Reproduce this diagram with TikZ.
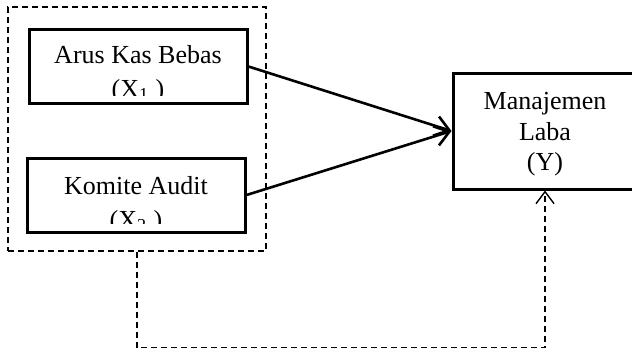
\documentclass[tikz,border=0pt]{standalone}
\usepackage{fontspec}
\setmainfont{Liberation Serif}
\usetikzlibrary{arrows.meta}
\begin{document}
\begin{tikzpicture}[x=0.5pt,y=-0.5pt,
  varbox/.style={draw,line width=1.5pt,minimum width=109pt,minimum height=37pt,inner sep=0pt},
  groupbox/.style={draw,dash pattern=on 3pt off 2pt,line width=0.7pt,inner sep=0pt},
  txt/.style={font=\fontsize{13}{15}\selectfont,anchor=base,inner sep=0pt},
  effect/.style={line width=1.3pt,-{Straight Barb[length=7pt,width=10pt]}},
  moderation/.style={line width=0.7pt,dash pattern=on 3pt off 2pt,-{Straight Barb[length=6pt,width=9pt]}}
]
\useasboundingbox (0,0) rectangle (632,349);
\clip (0,0) rectangle (632,349);

% independent variables grouped in a dashed frame
\node[groupbox,minimum width=129pt,minimum height=122pt] (grp) at (137,129) {};
\node[varbox] (x1) at (138,66.5) {};
\node[varbox] (x2) at (136,195) {};
% dependent variable
\node[varbox,minimum width=92pt,minimum height=58pt] (y) at (545,131) {};

% box labels (second line cut off by the box's lower edge)
\begin{scope}
  \clip (x1.north west) rectangle ([yshift=5pt]x1.south east);
  \node[txt] (x1a) at (138,63) {Arus Kas Bebas};
  \node[txt] (x1b) at (138,97) {(X\textsubscript{1}\ )};
\end{scope}
\begin{scope}
  \clip (x2.north west) rectangle ([yshift=5pt]x2.south east);
  \node[txt] (x2a) at (136,194) {Komite Audit};
  \node[txt] (x2b) at (136,228) {(X\textsubscript{2}\ )};
\end{scope}
\node[txt] (ya) at (545,109) {Manajemen};
\node[txt] (yb) at (545,140) {Laba};
\node[txt] (yc) at (545,170) {(Y)};

% direct effects
\draw[effect] (x1.east) -- (y.west);
\draw[effect] (x2.east) -- (y.west);

% simultaneous effect of the group
\draw[moderation] (grp.south) -- ++(0,96) -| (y.south);
\end{tikzpicture}
\end{document}
